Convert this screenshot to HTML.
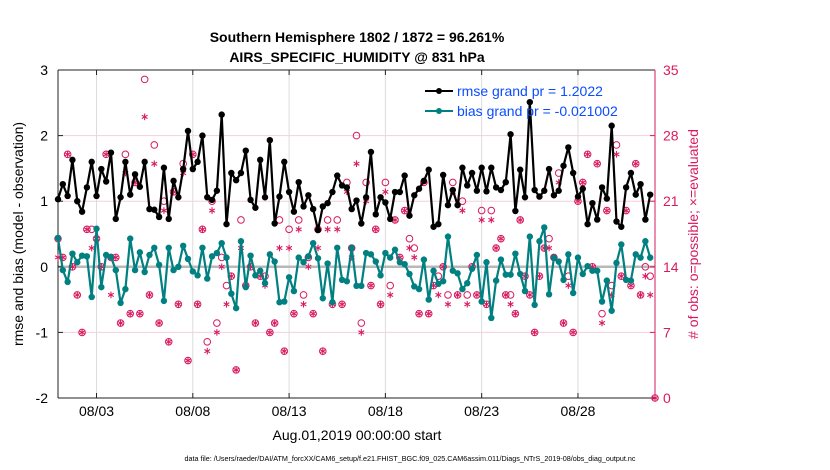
<!DOCTYPE html>
<html><head><meta charset="utf-8"><style>
html,body{margin:0;padding:0;background:#fff;}
svg{display:block;font-family:"Liberation Sans",Arial,sans-serif;}
</style></head><body>
<svg id="chart" width="830" height="470" viewBox="0 0 830 470">
<rect width="830" height="470" fill="#fff"/>
<g id="grid"></g><g id="axes"></g><g id="obs"></g><g id="series"></g>
<text x="357" y="42" text-anchor="middle" font-size="14" font-weight="bold">Southern Hemisphere 1802 / 1872 = 96.261%</text>
<text x="357" y="62" text-anchor="middle" font-size="14" font-weight="bold">AIRS_SPECIFIC_HUMIDITY @ 831 hPa</text>
<text transform="translate(23,234) rotate(-90)" text-anchor="middle" font-size="14">rmse and bias (model - observation)</text>
<text transform="translate(698,234) rotate(-90)" text-anchor="middle" font-size="14" fill="#d81b60"># of obs: o=possible; ×=evaluated</text>
<text x="357" y="440" text-anchor="middle" font-size="14">Aug.01,2019 00:00:00 start</text>
<text x="410" y="461" text-anchor="middle" font-size="7.2">data file: /Users/raeder/DAI/ATM_forcXX/CAM6_setup/f.e21.FHIST_BGC.f09_025.CAM6assim.011/Diags_NTrS_2019-08/obs_diag_output.nc</text>
<g>
<g>
<line x1="425" y1="91" x2="453" y2="91" stroke="#000" stroke-width="2"/><circle cx="439" cy="91" r="3" fill="#000"/>
<text x="457" y="96" font-size="14" fill="#0a4dff">rmse grand pr = 1.2022</text></g>
<g>
<line x1="425" y1="111" x2="453" y2="111" stroke="#008080" stroke-width="2"/><circle cx="439" cy="111" r="3" fill="#008080"/>
<text x="457" y="116" font-size="14" fill="#0a4dff">bias grand pr = -0.021002</text></g>
</g>
</svg>
<script>
const rmse=[1.03,1.26,1.08,1.63,1.00,0.84,1.21,1.60,1.08,1.49,1.30,1.74,0.73,1.06,1.60,1.10,1.41,1.22,1.60,0.88,0.87,0.76,1.51,0.73,1.31,1.06,1.49,2.07,1.49,1.60,2.00,1.06,1.02,1.16,2.32,0.65,1.43,1.32,1.43,1.77,1.02,0.90,1.63,1.06,1.93,0.66,1.07,1.60,1.14,0.84,1.29,0.92,1.09,0.88,0.56,0.92,0.97,1.14,1.39,1.24,1.21,0.88,1.01,0.66,1.06,1.75,0.80,1.06,0.98,0.73,1.14,1.14,1.39,0.78,1.09,1.19,1.31,1.48,0.61,0.65,1.40,0.94,1.17,0.94,1.51,1.24,1.43,1.16,1.51,1.15,1.51,1.21,1.17,1.29,2.02,0.85,1.48,1.06,2.51,1.17,1.07,1.16,1.49,1.09,1.16,1.54,1.82,1.43,1.07,1.19,0.65,0.97,0.72,1.21,1.04,2.15,0.69,0.61,1.21,1.43,1.10,1.26,0.72,1.10];
const bias=[0.44,-0.05,-0.23,0.20,0.07,0.17,0.16,-0.46,0.58,-0.31,0.18,0.15,-0.05,-0.55,-0.34,0.43,-0.05,0.22,-0.08,0.18,0.29,0.03,-0.52,0.29,-0.05,0.00,0.32,0.12,-0.07,-0.13,0.29,-0.18,0.16,0.21,0.36,0.14,-0.41,-0.63,0.39,-0.31,0.17,-0.13,-0.06,-0.25,0.19,0.08,-0.54,-0.53,-0.16,-0.37,0.14,0.07,0.16,0.36,0.13,-0.48,0.05,-0.54,0.29,-0.20,-0.22,0.29,-0.29,-0.29,0.21,0.19,0.08,-0.13,0.21,0.14,0.26,0.07,0.04,-0.11,-0.30,-0.34,0.11,-0.50,-0.06,-0.26,-0.22,0.46,-0.06,-0.10,-0.34,-0.25,-0.03,0.18,-0.53,0.07,-0.78,-0.21,0.11,-0.12,-0.12,0.20,-0.11,-0.37,0.46,-0.58,0.39,0.60,-0.42,0.14,0.08,-0.20,0.19,-0.40,0.14,-0.11,0.01,-0.06,-0.06,-0.53,-0.21,-0.67,0.06,0.34,-0.20,-0.21,0.19,0.14,0.39,0.14];
const possible=[17,15,26,14,11,7,18,18,17,14,26,15,15,8,26,9,23,9,34,11,27,8,21,6,22,10,25,4,26,10,18,6,21,8,15,12,13,3,19,12,14,8,13,13,7,8,19,5,18,9,19,11,15,9,18,5,19,10,19,10,23,16,28,8,23,12,18,10,23,12,19,15,20,17,16,9,23,9,12,13,14,11,23,11,21,11,14,11,20,10,20,16,17,11,11,9,19,13,11,7,13,16,17,15,24,8,13,7,21,23,26,14,25,9,20,12,27,13,20,12,25,11,14,13,0];
const evaluated=[15,15,26,14,11,7,18,16,17,14,26,11,15,8,24,9,23,9,30,11,25,8,20,6,22,10,24,4,26,10,18,5,20,7,14,10,13,3,16,12,14,8,13,12,7,8,16,5,16,9,18,10,14,9,16,5,18,10,18,10,22,15,25,7,21,12,18,10,22,11,19,15,20,16,15,9,23,9,12,11,14,10,22,11,20,10,14,11,19,10,19,16,17,11,10,9,19,13,11,7,13,16,16,15,23,8,12,7,21,23,26,14,25,8,20,11,26,13,20,12,25,11,13,11,0];
const leftTicks=[3,2,1,0,-1,-2];
const rightTicks=[35,28,21,14,7,0];
const dayTicks=[3,8,13,18,23,28];
const dayLabels=["08/03","08/08","08/13","08/18","08/23","08/28"];

const NS="http://www.w3.org/2000/svg";
const L=58,R=655,T=70,B=398;
const xDay=d=>L+(d-1)/31*(R-L);
const xIdx=i=>xDay(1+i*0.25);
const yL=v=>B-(v+2)/5*(B-T);
const yR=c=>B-c/35*(B-T);
const RED="#d81b60";
function mk(tag,attrs,parent){const e=document.createElementNS(NS,tag);for(const k in attrs)e.setAttribute(k,attrs[k]);parent.appendChild(e);return e;}
const grid=document.getElementById('grid'),axes=document.getElementById('axes'),obs=document.getElementById('obs'),ser=document.getElementById('series');

dayTicks.forEach((d,k)=>{const x=xDay(d);
 const g=mk('line',{x1:x,x2:x,y1:T,y2:B,stroke:'#dcdcdc','stroke-width':1},grid);
 
 
 mk('line',{x1:x,x2:x,y1:B,y2:B-5,stroke:'#222'},axes);
 mk('line',{x1:x,x2:x,y1:T,y2:T+5,stroke:'#222'},axes);
 const t=mk('text',{x:x,y:416,'text-anchor':'middle','font-size':14},axes);t.textContent=dayLabels[k];
 
 
});
rightTicks.forEach(c=>{const y=yR(c);
 if(c>0&&c<35){const g=mk('line',{x1:L,x2:R,y1:y,y2:y,stroke:'#f6cfdc','stroke-width':1},grid);
 
 }
 mk('line',{x1:R,x2:R-5,y1:y,y2:y,stroke:RED},axes);
 const t=mk('text',{x:R+8,y:y+5,'font-size':14,fill:RED},axes);t.textContent=c;
 
 
});
leftTicks.forEach(v=>{const y=yL(v);
 mk('line',{x1:L,x2:L+5,y1:y,y2:y,stroke:'#222'},axes);
 const t=mk('text',{x:L-10,y:y+5,'text-anchor':'end','font-size':14},axes);t.textContent=v;
 
 
});
mk('line',{x1:L,x2:R,y1:T,y2:T,stroke:'#222'},axes);
mk('line',{x1:L,x2:R,y1:B,y2:B,stroke:'#222'},axes);
mk('line',{x1:L,x2:L,y1:T,y2:B,stroke:'#222'},axes);
const ra=mk('line',{x1:R,x2:R,y1:T,y2:B,stroke:RED},axes);


const zl=mk('line',{x1:L,x2:R,y1:yL(0),y2:yL(0),stroke:'#b8b8b8','stroke-width':2.5},grid);



possible.forEach((c,i)=>{const x=xIdx(i),y=yR(c);
 const e=mk('circle',{cx:x,cy:y,r:3.3,fill:'none',stroke:RED,'stroke-width':1},obs);
 
 
});
evaluated.forEach((c,i)=>{const x=xIdx(i),y=yR(c);
 const g=mk('g',{stroke:RED,'stroke-width':1.1},obs);
 
 
 for(let a=0;a<3;a++){const ang=a*Math.PI/3+Math.PI/2;const dx=3.3*Math.cos(ang),dy=3.3*Math.sin(ang);
  mk('line',{x1:x-dx,y1:y-dy,x2:x+dx,y2:y+dy},g);}
});
function series(vals,color,name){
 const pts=vals.map((v,i)=>xIdx(i).toFixed(1)+','+yL(v).toFixed(1)).join(' ');
 const p=mk('polyline',{points:pts,fill:'none',stroke:color,'stroke-width':2.2,'stroke-linejoin':'round'},ser);
 
 
 vals.forEach((v,i)=>{const c=mk('circle',{cx:xIdx(i),cy:yL(v),r:3.2,fill:color},ser);
  
  });
}
series(bias,'#008080','bias');
series(rmse,'#000000','rmse');
</script>
</body></html>
